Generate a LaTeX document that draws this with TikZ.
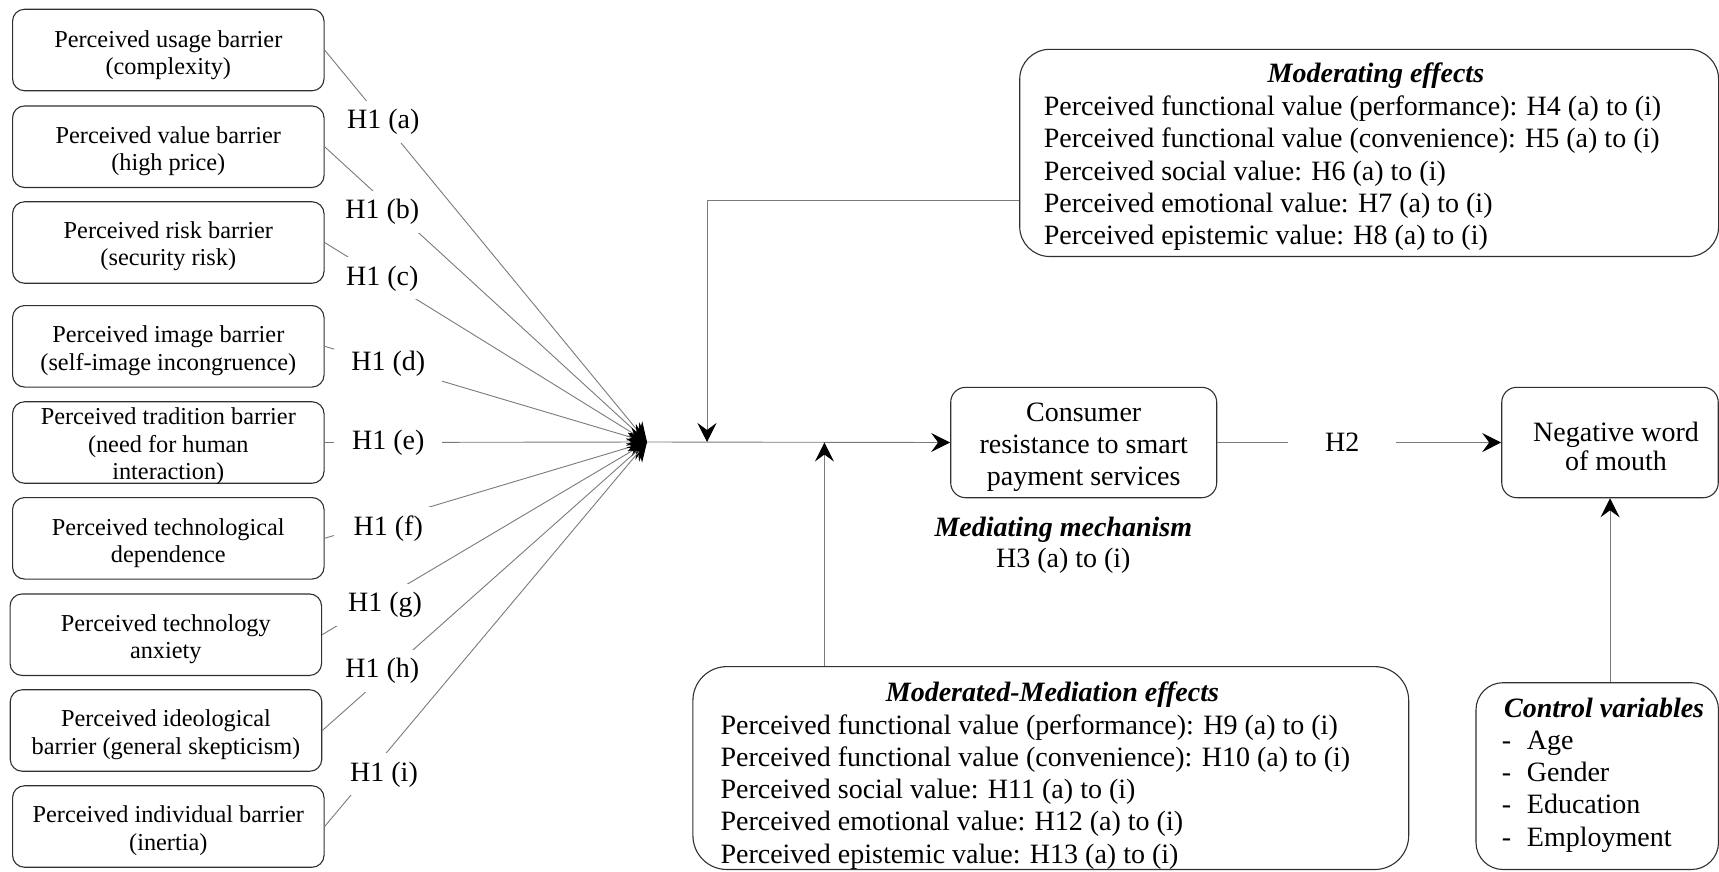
\documentclass[tikz,border=0pt]{standalone}
\usepackage{fontspec}
\setmainfont{Liberation Serif}
\usetikzlibrary{arrows.meta}
\definecolor{boxc}{HTML}{303030}
\definecolor{linec}{HTML}{7A7A7A}
\newcommand{\smallsz}{\fontsize{24.3}{27.5}\selectfont}
\newcommand{\bigsz}{\fontsize{28}{32.3}\selectfont}
\begin{document}
\begin{tikzpicture}[x=1pt,y=-1pt,
  every node/.style={inner sep=0pt},
  lbox/.style={draw=boxc, line width=1.1pt, rounded corners=12pt,
    minimum width=311.5pt, minimum height=81.5pt},
  ltext/.style={align=center, font=\smallsz},
  rbox/.style={draw=boxc, line width=1.1pt, rounded corners=15pt,
    minimum height=110.4pt},
  bigbox/.style={draw=boxc, line width=1.1pt, rounded corners=30pt},
  hlab/.style={fill=white, minimum width=108pt, minimum height=42pt, font=\bigsz},
  conn/.style={draw=linec, line width=0.9pt},
  arr/.style={conn, -{Stealth[length=19pt, width=19pt, inset=7pt, color=black]}},
  txt/.style={font=\bigsz},
  ttl/.style={font=\bigsz\bfseries\itshape}]
\useasboundingbox (0,0) rectangle (1719,871);

% barrier constructs: frames, then their captions set slightly below centre
\foreach \n/\x/\y in {b1/168.3/50, b2/168.3/146.7, b3/168.3/242.5, b4/168.3/346.3,
    b5/168.3/442.5, b6/168.3/538.3, b7/165.8/634.7, b8/166/730.5, b9/168.3/826.5}
  \node[lbox] (\n) at (\x,\y) {};

\node[ltext] (t1) at ([yshift=-5pt]b1.center) {Perceived usage barrier\\(complexity)};
\node[ltext] (t2) at ([yshift=-4.3pt]b2.center) {Perceived value barrier\\(high price)};
\node[ltext] (t3) at ([yshift=-3.5pt]b3.center) {Perceived risk barrier\\(security risk)};
\node[ltext] (t4) at ([yshift=-4.3pt]b4.center) {Perceived image barrier\\(self-image incongruence)};
\node[ltext] (t5) at ([yshift=-3.9pt]b5.center) {Perceived tradition barrier\\(need for human\\interaction)};
\node[ltext] (t6) at ([yshift=-5pt]b6.center) {Perceived technological\\dependence};
\node[ltext] (t7) at ([yshift=-4.6pt]b7.center) {Perceived technology\\anxiety};
\node[ltext] (t8) at ([yshift=-4.3pt]b8.center) {Perceived ideological\\barrier (general skepticism)};
\node[ltext] (t9) at ([yshift=-4.1pt]b9.center) {Perceived individual barrier\\(inertia)};

% outcome constructs
\node[rbox, minimum width=266pt] (crs) at (1083.7,442.5) {};
\node[align=center, font=\fontsize{28}{32}\selectfont] (crst) at ([yshift=-4.8pt]crs.center)
  {Consumer\\resistance to smart\\payment services};
\node[rbox, minimum width=216.5pt] (nwom) at (1610,442.5) {};
\node[align=center, font=\fontsize{28}{29.5}\selectfont] (nwomt) at ([xshift=6pt, yshift=-4pt]nwom.center)
  {Negative word\\of mouth};

% moderator and control panels
\node[bigbox, minimum width=698.9pt, minimum height=207.2pt] (mod) at (1369.15,152.9) {};
\node[bigbox, rounded corners=34pt, minimum width=715.8pt, minimum height=202.9pt] (medmod) at (1050.8,768.05) {};
\node[bigbox, rounded corners=27pt, minimum width=242.5pt, minimum height=186.8pt] (ctrl) at (1597.25,776.1) {};

\node[ttl, anchor=base] (modt) at (1375.9,82.8) {Moderating effects};
\foreach \t [count=\k from 0] in {
  {Perceived functional value (performance): H4 (a) to (i)},
  {Perceived functional value (convenience): H5 (a) to (i)},
  {Perceived social value: H6 (a) to (i)},
  {Perceived emotional value: H7 (a) to (i)},
  {Perceived epistemic value: H8 (a) to (i)}}
  \node[txt, anchor=base west] (modl\k) at (1043.7,115.5+32.3*\k) {\t};

\node[ttl, anchor=base] (medt) at (1052.4,701.1) {Moderated-Mediation effects};
\foreach \t [count=\k from 0] in {
  {Perceived functional value (performance): H9 (a) to (i)},
  {Perceived functional value (convenience): H10 (a) to (i)},
  {Perceived social value: H11 (a) to (i)},
  {Perceived emotional value: H12 (a) to (i)},
  {Perceived epistemic value: H13 (a) to (i)}}
  \node[txt, anchor=base west] (medl\k) at (720.3,734+32.3*\k) {\t};

\node[ttl, anchor=base west] (ctrlt) at (1504,717.6) {Control variables};
\foreach \t [count=\k from 0] in {Age, Gender, Education, Employment}
  \node[txt, anchor=base west] (ctrl\k) at (1501.7,749.5+32.2*\k) {\makebox[25pt][l]{-}\t};

\node[ttl, anchor=base] (medm) at (1063.3,536) {Mediating mechanism};
\node[txt, anchor=base] (medh) at (1063.3,567.6) {H3 (a) to (i)};

% paths
\coordinate (hub) at (647,442);
\coordinate (modrow) at (0,200.6);
\coordinate (modtip) at (707,442);
\coordinate (medtip) at (824.4,442.5);

\foreach \i in {1,...,9}
  \draw[arr] (b\i.east) -- (hub);
\draw[arr] (hub) -- (crs.west);
\draw[arr] (crs.east) -- node[hlab, pos=0.44] (h2) {H2} (nwom.west);
\draw[arr] (mod.west |- modrow) -| (modtip);
\draw[arr] (medmod.north -| medtip) -- (medtip);
\draw[arr] (nwom.south |- ctrl.north) -- (nwom.south);

% path labels
\node[hlab] (la) at (383.3,121.7) {H1 (a)};
\node[hlab] (lb) at (382.3,211.7) {H1 (b)};
\node[hlab] (lc) at (382.3,278.3) {H1 (c)};
\node[hlab] (ld) at (388.3,363.3) {H1 (d)};
\node[hlab] (le) at (388.3,442.7) {H1 (e)};
\node[hlab] (lf) at (388.3,528.3) {H1 (f)};
\node[hlab] (lg) at (385,605)     {H1 (g)};
\node[hlab] (lh) at (382.3,670.7) {H1 (h)};
\node[hlab] (li) at (384,774.3)   {H1 (i)};
\end{tikzpicture}
\end{document}
